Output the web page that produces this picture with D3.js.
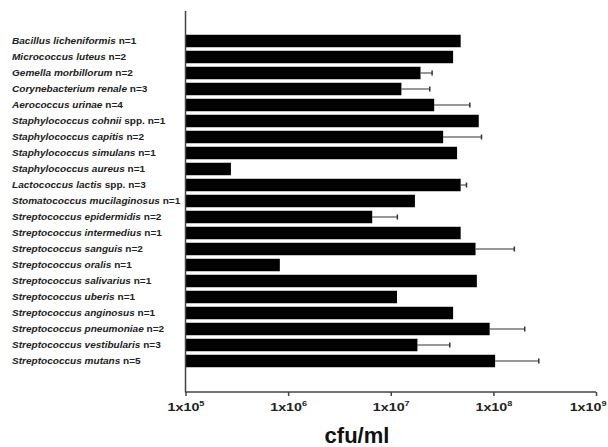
<!DOCTYPE html>
<html><head><meta charset="utf-8">
<script src="https://cdn.jsdelivr.net/npm/d3@7"></script>
<style>body{margin:0;background:#fff}svg{display:block}</style>
</head><body>
<script>
const species = ["Bacillus licheniformis","Micrococcus luteus","Gemella morbillorum","Corynebacterium renale","Aerococcus urinae","Staphylococcus cohnii","Staphylococcus capitis","Staphylococcus simulans","Staphylococcus aureus","Lactococcus lactis","Stomatococcus mucilaginosus","Streptococcus epidermidis","Streptococcus intermedius","Streptococcus sanguis","Streptococcus oralis","Streptococcus salivarius","Streptococcus uberis","Streptococcus anginosus","Streptococcus pneumoniae","Streptococcus vestibularis","Streptococcus mutans"];
const suffixes = [" n=1"," n=2"," n=2"," n=3"," n=4"," spp. n=1"," n=2"," n=1"," n=1"," spp. n=3"," n=1"," n=2"," n=1"," n=2"," n=1"," n=1"," n=1"," n=1"," n=2"," n=3"," n=5"];
const means = [4.8e7,4.05e7,1.95e7,1.27e7,2.65e7,7.2e7,3.24e7,4.43e7,2.77e5,4.8e7,1.72e7,6.6e6,4.8e7,6.7e7,8.3e5,6.9e7,1.15e7,4.05e7,9.2e7,1.82e7,1.04e8];
const upper = [null,null,2.53e7,2.4e7,5.9e7,null,7.66e7,null,null,5.47e7,null,1.16e7,null,1.6e8,null,null,null,null,2.02e8,3.76e7,2.77e8];
const tickValues = [1e5,1e6,1e7,1e8,1e9];
const tickExps = ["5","6","7","8","9"];
const axisTitle = "cfu/ml";

const W=608,H=447;
const svg=d3.select("body").append("svg").attr("width",W).attr("height",H);
const x=d3.scaleLog().domain([1e5,1e9]).range([185.5,596]);
const y=d3.scaleBand().domain(d3.range(species.length)).range([33,369]).paddingInner(0.22).paddingOuter(0.11);
const font="'Liberation Sans', Arial, sans-serif";

// bars
svg.append("g").selectAll("rect").data(means).join("rect")
  .attr("x",x(1e5)).attr("y",(d,i)=>y(i))
  .attr("width",d=>x(d)-x(1e5)).attr("height",y.bandwidth())
  .attr("fill","#000");

// error bars
const eb=svg.append("g").attr("stroke","#333").attr("stroke-width",1);
means.forEach((m,i)=>{
  if(upper[i]==null) return;
  const cy=y(i)+y.bandwidth()/2;
  eb.append("line").attr("x1",x(m)).attr("x2",x(upper[i])).attr("y1",cy).attr("y2",cy);
  eb.append("line").attr("x1",x(upper[i])).attr("x2",x(upper[i])).attr("y1",cy-2.5).attr("y2",cy+2.5).attr("stroke-width",1.5);
});

// labels
const lab=svg.append("g").attr("font-family",font).attr("font-size","8.6px").attr("font-weight","bold").attr("fill","#222");
species.forEach((s,i)=>{
  const t=lab.append("text").attr("transform",`translate(12,${y(i)+y.bandwidth()/2}) scale(1.17,1)`).attr("dy","0.35em");
  t.append("tspan").attr("font-style","italic").text(s);
  t.append("tspan").text(suffixes[i]);
});

// x axis
const xAxis=d3.axisBottom(x).tickValues(tickValues).tickSize(4).tickFormat("");
const gx=svg.append("g").attr("transform","translate(0,392)").call(xAxis);
gx.select(".domain").attr("stroke","#444").attr("stroke-width",1.5).attr("d","M185.5,0H596");
gx.selectAll(".tick line").attr("stroke","#444").attr("stroke-width",1.5);
gx.selectAll(".tick").each(function(d,i){
  const last = i===tickValues.length-1;
  const t=d3.select(this).append("text")
    .attr("transform",last?"translate(10,18.5) scale(1.3,1)":"translate(0,18.5) scale(1.3,1)")
    .attr("text-anchor",last?"end":"middle")
    .attr("font-family",font).attr("font-size","11px").attr("font-weight","bold").attr("fill","#222");
  t.append("tspan").text("1x10");
  t.append("tspan").attr("font-size","7px").attr("dy","-4.5").text(tickExps[i]);
});

// y axis
svg.append("line").attr("x1",185.5).attr("x2",185.5).attr("y1",11).attr("y2",392.5).attr("stroke","#444").attr("stroke-width",1.5);

// title
svg.append("text").attr("x",357).attr("y",443).attr("text-anchor","middle")
  .attr("font-family",font).attr("font-size","22px").attr("font-weight","bold").attr("fill","#111").text(axisTitle);
</script>
</body></html>
